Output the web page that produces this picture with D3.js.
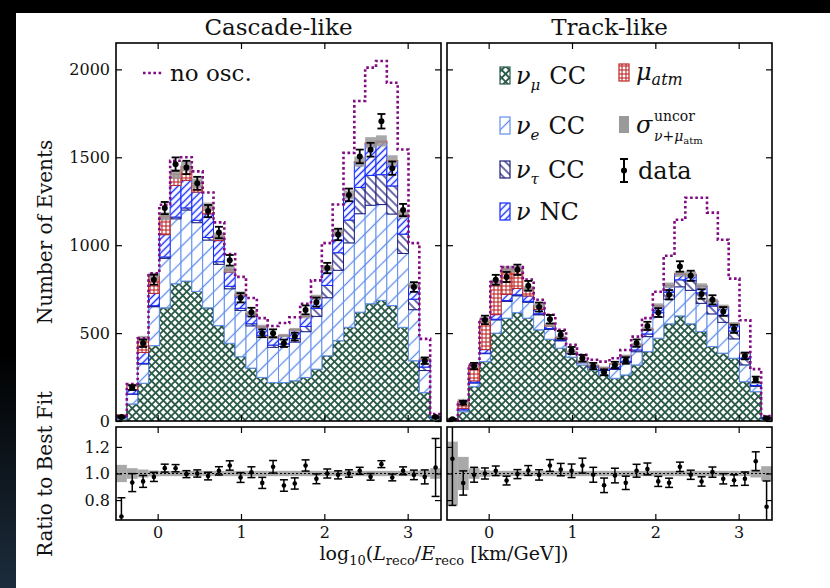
<!DOCTYPE html>
<html>
<head>
<meta charset="utf-8">
<script src="https://cdn.jsdelivr.net/npm/d3@7"></script>
<style>
  body { margin: 0; background: #000; }
  svg { display: block; }
  text { font-family: "DejaVu Serif", serif; fill: #111; }
</style>
</head>
<body>
<svg id="chart" width="830" height="588"></svg>
<script>
// binning: 30 bins of 0.13 in log10(L/E) from -0.5 to 3.4
const nBins = 30, xLo = -0.5, xHi = 3.4, binW = 0.13;
const edges = d3.range(nBins + 1).map(i => xLo + i * binW);

// Cascade-like
const cascNumuCC  = [12, 97, 215, 429, 644, 781, 796, 737, 644, 543, 442, 366, 301, 248, 219, 219, 229, 248, 295, 371, 457, 533, 619, 667, 686, 657, 533, 343, 162, 15];
const cascNueCC   = [10, 55, 109, 221, 281, 369, 404, 391, 385, 348, 310, 263, 240, 228, 200, 205, 220, 260, 300, 330, 400, 480, 560, 560, 545, 520, 420, 290, 125, 4];
const cascNutauCC = [1, 2, 4, 6, 8, 10, 12, 14, 15, 15, 14, 12, 12, 12, 13, 15, 20, 30, 45, 70, 100, 130, 150, 170, 170, 160, 110, 60, 20, 1];
const cascNuNC    = [6, 25, 62, 70, 127, 180, 157, 160, 134, 120, 81, 72, 55, 46, 41, 45, 48, 56, 62, 97, 113, 141, 143, 178, 183, 143, 111, 75, 44, 2];
const cascMuAtm   = [5, 25, 80, 99, 104, 65, 80, 50, 40, 25, 15, 10, 5, 3, 2, 2, 2, 2, 2, 2, 2, 2, 3, 8, 9, 2, 2, 2, 1, 0];
const cascData    = [23, 190, 442, 804, 1211, 1461, 1442, 1352, 1194, 1072, 914, 701, 619, 499, 499, 442, 480, 632, 676, 870, 1061, 1286, 1505, 1543, 1705, 1438, 1200, 762, 343, 23];
const cascNoOsc   = [30, 210, 470, 840, 1230, 1480, 1500, 1420, 1300, 1130, 950, 820, 700, 585, 540, 557, 590, 667, 800, 1012, 1231, 1525, 1820, 2010, 2048, 1924, 1544, 1012, 467, 40];
const cascUncor   = [0.065, 0.04, 0.03, 0.022, 0.02, 0.02, 0.02, 0.02, 0.02, 0.02, 0.02, 0.02, 0.02, 0.02, 0.02, 0.02, 0.02, 0.02, 0.02, 0.02, 0.02, 0.02, 0.02, 0.02, 0.02, 0.02, 0.02, 0.02, 0.025, 0.04];

// Track-like
const trackNumuCC  = [6, 53, 196, 338, 500, 585, 617, 585, 519, 465, 414, 363, 319, 291, 262, 243, 262, 319, 395, 471, 553, 598, 553, 509, 424, 386, 357, 224, 167, 12];
const trackNueCC   = [1, 10, 20, 45, 75, 95, 95, 90, 85, 56, 42, 20, 12, 16, 25, 50, 70, 75, 85, 120, 140, 165, 190, 160, 185, 175, 110, 95, 30, 4];
const trackNutauCC = [0, 1, 2, 3, 4, 5, 6, 6, 6, 5, 5, 3, 2, 2, 3, 5, 8, 10, 15, 25, 40, 40, 55, 60, 45, 40, 45, 35, 5, 1];
const trackNuNC    = [1, 8, 10, 20, 26, 35, 36, 30, 25, 12, 10, 5, 3, 6, 12, 24, 28, 28, 26, 38, 37, 32, 34, 38, 27, 47, 39, 30, 15, 3];
const trackMuAtm   = [1, 40, 88, 169, 182, 145, 110, 41, 20, 8, 5, 2, 1, 1, 2, 2, 2, 2, 2, 2, 2, 2, 2, 1, 1, 1, 1, 1, 0, 0];
const trackData    = [10, 104, 313, 575, 803, 819, 860, 769, 648, 579, 490, 401, 357, 313, 277, 319, 344, 443, 541, 617, 718, 879, 826, 722, 689, 623, 524, 370, 237, 15];
const trackNoOsc   = [10, 110, 319, 580, 790, 875, 875, 805, 690, 604, 519, 433, 376, 348, 338, 357, 404, 480, 585, 735, 940, 1145, 1270, 1270, 1185, 1031, 810, 573, 295, 28];
const trackUncor   = [0.24, 0.125, 0.04, 0.025, 0.02, 0.02, 0.02, 0.02, 0.02, 0.02, 0.02, 0.02, 0.02, 0.02, 0.02, 0.02, 0.02, 0.02, 0.02, 0.02, 0.02, 0.02, 0.02, 0.02, 0.02, 0.02, 0.02, 0.02, 0.03, 0.055];

const yTicks = [0, 500, 1000, 1500, 2000];
const ratioTicks = [0.8, 1.0, 1.2];
const xTicks = [0, 1, 2, 3];

const W = 830, H = 588;
const panelW = 325;
const mainTop = 43, mainBot = 421, ratTop = 427, ratBot = 520;

const colNumu = "#2a5a48", colNue = "#6290ee", colTau = "#1e1e7c",
      colNC = "#1028ff", colMu = "#c02424", colBand = "#9a9a9a", colNoOsc = "#820a82";

const svg = d3.select("#chart");
const defs = svg.append("defs");

// background: black edge, white figure
const grad = defs.append("linearGradient").attr("id", "edgeGrad")
    .attr("x1", 0).attr("y1", 0).attr("x2", 0).attr("y2", 1);
grad.append("stop").attr("offset", "0.6").attr("stop-color", "#000");
grad.append("stop").attr("offset", "1").attr("stop-color", "#1c2c3c");
svg.append("rect").attr("width", W).attr("height", H).attr("fill", "url(#edgeGrad)");
svg.append("rect").attr("x", 16).attr("y", 13).attr("width", W - 16).attr("height", H - 13).attr("fill", "#fff");

// hatch patterns
function hatch(id, color, size, width, angle, cross) {
    const p = defs.append("pattern").attr("id", id)
        .attr("patternUnits", "userSpaceOnUse")
        .attr("width", size).attr("height", size)
        .attr("patternTransform", `rotate(${angle})`);
    p.append("rect").attr("width", size).attr("height", size).attr("fill", "#fff");
    p.append("line").attr("x1", size / 2).attr("x2", size / 2).attr("y1", 0).attr("y2", size)
        .attr("stroke", color).attr("stroke-width", width);
    if (cross) {
        p.append("line").attr("x1", 0).attr("x2", size).attr("y1", size / 2).attr("y2", size / 2)
            .attr("stroke", color).attr("stroke-width", width);
    }
}
hatch("hNumu", colNumu, 5.5, 1.8, 45, true);
hatch("hNue", colNue, 11, 1.3, 45, false);
hatch("hTau", colTau, 6, 1.3, -45, false);
hatch("hNC", colNC, 5, 1.4, 45, false);
hatch("hMu", colMu, 4, 1.1, 0, true);

const layerStyle = [
    { pat: "hNumu", color: colNumu },
    { pat: "hNue", color: colNue },
    { pat: "hTau", color: colTau },
    { pat: "hNC", color: colNC },
    { pat: "hMu", color: colMu }
];

const y = d3.scaleLinear().domain([0, 2150]).range([mainBot, mainTop]);
const yr = d3.scaleLinear().domain([0.65, 1.35]).range([ratBot, ratTop]);

const panels = [
    { title: "Cascade-like", x0: 116, comps: [cascNumuCC, cascNueCC, cascNutauCC, cascNuNC, cascMuAtm],
      data: cascData, noOsc: cascNoOsc, unc: cascUncor },
    { title: "Track-like", x0: 447, comps: [trackNumuCC, trackNueCC, trackNutauCC, trackNuNC, trackMuAtm],
      data: trackData, noOsc: trackNoOsc, unc: trackUncor }
];

panels.forEach((p, pi) => {
    const x = d3.scaleLinear().domain([xLo, xHi]).range([p.x0, p.x0 + panelW]);
    const bw = x(edges[1]) - x(edges[0]);
    const total = p.data.map((_, i) => d3.sum(p.comps, c => c[i]));

    // clips
    defs.append("clipPath").attr("id", "clipMain" + pi).append("rect")
        .attr("x", p.x0).attr("y", mainTop).attr("width", panelW).attr("height", mainBot - mainTop);
    defs.append("clipPath").attr("id", "clipRat" + pi).append("rect")
        .attr("x", p.x0).attr("y", ratTop).attr("width", panelW).attr("height", ratBot - ratTop);

    const gm = svg.append("g").attr("clip-path", `url(#clipMain${pi})`);

    // nu_mu CC as stepped area
    const stepPts = arr => [{ x: xLo, v: 0 }]
        .concat(edges.map((e, i) => ({ x: e, v: arr[Math.min(i, nBins - 1)] })))
        .concat([{ x: xHi, v: 0 }]);
    const stepLine = d3.line().curve(d3.curveStepAfter).x(d => x(d.x)).y(d => y(d.v));
    const stepArea = d3.area().curve(d3.curveStepAfter).x(d => x(d.x)).y0(y(0)).y1(d => y(d.v));

    gm.append("path").datum(stepPts(p.comps[0]))
        .attr("d", stepArea).attr("fill", "url(#hNumu)");
    gm.append("path").datum(stepPts(p.comps[0]))
        .attr("d", stepLine).attr("fill", "none").attr("stroke", colNumu).attr("stroke-width", 1.3);

    // stacked boxes for the other components
    let cum = p.comps[0].slice();
    p.comps.slice(1).forEach((arr, k) => {
        const st = layerStyle[k + 1];
        const rows = arr.map((v, i) => ({ i, b: cum[i], t: cum[i] + v }));
        gm.append("g").selectAll("rect").data(rows).join("rect")
            .attr("x", d => x(edges[d.i])).attr("width", bw)
            .attr("y", d => y(d.t)).attr("height", d => y(d.b) - y(d.t))
            .attr("fill", `url(#${st.pat})`)
            .attr("stroke", st.color).attr("stroke-width", 1);
        cum = cum.map((c, i) => c + arr[i]);
    });

    // uncorrelated uncertainty band
    gm.append("g").selectAll("rect").data(total).join("rect")
        .attr("x", (d, i) => x(edges[i])).attr("width", bw)
        .attr("y", (d, i) => y(d * (1 + p.unc[i])))
        .attr("height", (d, i) => y(d * (1 - p.unc[i])) - y(d * (1 + p.unc[i])))
        .attr("fill", colBand).attr("opacity", 0.85);

    // no oscillation
    gm.append("path").datum(stepPts(p.noOsc))
        .attr("d", stepLine).attr("fill", "none").attr("stroke", colNoOsc)
        .attr("stroke-width", 2.6).attr("stroke-dasharray", "2.6,2.6");

    // data
    const centers = p.data.map((d, i) => x(edges[i] + binW / 2));
    const gd = gm.append("g");
    p.data.forEach((d, i) => {
        const e = Math.sqrt(d);
        const cx = centers[i];
        gd.append("line").attr("x1", cx).attr("x2", cx).attr("y1", y(d - e)).attr("y2", y(d + e))
            .attr("stroke", "#000").attr("stroke-width", 1.8);
        [d - e, d + e].forEach(v => gd.append("line")
            .attr("x1", cx - 4).attr("x2", cx + 4).attr("y1", y(v)).attr("y2", y(v))
            .attr("stroke", "#000").attr("stroke-width", 1.8));
        gd.append("circle").attr("cx", cx).attr("cy", y(d)).attr("r", 3).attr("fill", "#000");
    });

    // ratio panel
    const gr = svg.append("g").attr("clip-path", `url(#clipRat${pi})`);
    gr.append("g").selectAll("rect").data(p.unc).join("rect")
        .attr("x", (d, i) => x(edges[i])).attr("width", bw)
        .attr("y", d => yr(1 + d)).attr("height", d => yr(1 - d) - yr(1 + d))
        .attr("fill", colBand).attr("opacity", 0.85);
    gr.append("line").attr("x1", p.x0).attr("x2", p.x0 + panelW)
        .attr("y1", yr(1)).attr("y2", yr(1))
        .attr("stroke", "#000").attr("stroke-width", 1).attr("stroke-dasharray", "2,2");
    p.data.forEach((d, i) => {
        const r = d / total[i];
        const e = Math.sqrt(d) / total[i];
        const cx = centers[i];
        gr.append("line").attr("x1", cx).attr("x2", cx).attr("y1", yr(r - e)).attr("y2", yr(r + e))
            .attr("stroke", "#000").attr("stroke-width", 1.5);
        [r - e, r + e].forEach(v => gr.append("line")
            .attr("x1", cx - 4).attr("x2", cx + 4).attr("y1", yr(v)).attr("y2", yr(v))
            .attr("stroke", "#000").attr("stroke-width", 1.5));
        gr.append("circle").attr("cx", cx).attr("cy", yr(r)).attr("r", 2.3).attr("fill", "#000");
    });

    // axes: ticks inside on all four sides
    const styleAxis = g => {
        g.select(".domain").remove();
        g.selectAll(".tick line").attr("stroke", "#000").attr("stroke-width", 1.2);
        g.selectAll(".tick text").attr("fill", "#111")
            .style("font-family", "'DejaVu Serif', serif").style("font-size", "16px");
    };
    const tickLen = -6;
    const ax = (gen, tx, ty) => svg.append("g").attr("transform", `translate(${tx},${ty})`).call(gen).call(styleAxis);

    // main
    ax(d3.axisLeft(y).tickValues(yTicks).tickSize(tickLen).tickPadding(6)
        .tickFormat(pi === 0 ? d3.format("d") : ""), p.x0, 0);
    ax(d3.axisRight(y).tickValues(yTicks).tickSize(tickLen).tickFormat(""), p.x0 + panelW, 0);
    ax(d3.axisTop(x).tickValues(xTicks).tickSize(tickLen).tickFormat(""), 0, mainTop);
    ax(d3.axisBottom(x).tickValues(xTicks).tickSize(tickLen).tickFormat(""), 0, mainBot);
    // ratio
    ax(d3.axisLeft(yr).tickValues(ratioTicks).tickSize(tickLen).tickPadding(6)
        .tickFormat(pi === 0 ? d3.format(".1f") : ""), p.x0, 0);
    ax(d3.axisRight(yr).tickValues(ratioTicks).tickSize(tickLen).tickFormat(""), p.x0 + panelW, 0);
    ax(d3.axisTop(x).tickValues(xTicks).tickSize(tickLen).tickFormat(""), 0, ratTop);
    ax(d3.axisBottom(x).tickValues(xTicks).tickSize(tickLen).tickPadding(7).tickFormat(d3.format("d")), 0, ratBot);

    // frames
    [[mainTop, mainBot], [ratTop, ratBot]].forEach(([t, b]) => {
        svg.append("rect").attr("x", p.x0).attr("y", t).attr("width", panelW).attr("height", b - t)
            .attr("fill", "none").attr("stroke", "#000").attr("stroke-width", 1.6);
    });

    // title
    svg.append("text").attr("x", p.x0 + panelW / 2).attr("y", 35)
        .attr("text-anchor", "middle").style("font-size", "23px").text(p.title);
});

// axis labels
svg.append("text").attr("transform", "translate(52,232) rotate(-90)")
    .attr("text-anchor", "middle").style("font-size", "20px").text("Number of Events");
svg.append("text").attr("transform", "translate(52,474) rotate(-90)")
    .attr("text-anchor", "middle").style("font-size", "20px").text("Ratio to Best Fit");

const xl = svg.append("text").attr("x", 444).attr("y", 560).attr("text-anchor", "middle").style("font-size", "19px");
xl.append("tspan").text("log");
xl.append("tspan").attr("dy", 5).style("font-size", "13px").text("10");
xl.append("tspan").attr("dy", -5).text("(");
xl.append("tspan").style("font-style", "italic").text("L");
xl.append("tspan").attr("dy", 5).style("font-size", "13px").text("reco");
xl.append("tspan").attr("dy", -5).text("/");
xl.append("tspan").style("font-style", "italic").text("E");
xl.append("tspan").attr("dy", 5).style("font-size", "13px").text("reco");
xl.append("tspan").attr("dy", -5).text(" [km/GeV])");

// legend: no osc
svg.append("line").attr("x1", 143).attr("x2", 162).attr("y1", 73).attr("y2", 73)
    .attr("stroke", colNoOsc).attr("stroke-width", 2.6).attr("stroke-dasharray", "2.6,2.6");
svg.append("text").attr("x", 170).attr("y", 81).style("font-size", "23px").text("no osc.");

// legend: components
const legA = [
    { pat: "hNumu", color: colNumu, sym: "ν", sub: "μ", rest: "CC", y: 84 },
    { pat: "hNue", color: colNue, sym: "ν", sub: "e", rest: "CC", y: 134 },
    { pat: "hTau", color: colTau, sym: "ν", sub: "τ", rest: "CC", y: 178 },
    { pat: "hNC", color: colNC, sym: "ν", sub: "", rest: "NC", y: 220 }
];
legA.forEach(l => {
    svg.append("rect").attr("x", 500).attr("y", l.y - 17).attr("width", 10).attr("height", 17)
        .attr("fill", `url(#${l.pat})`).attr("stroke", l.color).attr("stroke-width", 1.2);
    const t = svg.append("text").attr("x", 516).attr("y", l.y).style("font-size", "24px");
    t.append("tspan").style("font-style", "italic").text(l.sym);
    if (l.sub) t.append("tspan").attr("dy", 6).style("font-size", "15px").style("font-style", "italic").text(l.sub);
    t.append("tspan").attr("dy", l.sub ? -6 : 0).attr("dx", 9).text(l.rest);
});

// mu atm
svg.append("rect").attr("x", 619).attr("y", 64).attr("width", 10).attr("height", 17)
    .attr("fill", "url(#hMu)").attr("stroke", colMu).attr("stroke-width", 1.2);
const tm = svg.append("text").attr("x", 636).attr("y", 80).style("font-size", "24px");
tm.append("tspan").style("font-style", "italic").text("μ");
tm.append("tspan").attr("dy", 5).style("font-size", "16px").style("font-style", "italic").text("atm");

// sigma uncor
svg.append("rect").attr("x", 619).attr("y", 116).attr("width", 10).attr("height", 17).attr("fill", colBand);
svg.append("text").attr("x", 636).attr("y", 133).style("font-size", "24px").style("font-style", "italic").text("σ");
svg.append("text").attr("x", 654).attr("y", 121).style("font-size", "14px").text("uncor");
const ts = svg.append("text").attr("x", 654).attr("y", 141).style("font-size", "14px");
ts.append("tspan").style("font-style", "italic").text("ν");
ts.append("tspan").text("+");
ts.append("tspan").style("font-style", "italic").text("μ");
ts.append("tspan").attr("dy", 3).style("font-size", "10px").text("atm");

// data
const lx = 624;
svg.append("line").attr("x1", lx).attr("x2", lx).attr("y1", 159).attr("y2", 182).attr("stroke", "#000").attr("stroke-width", 2);
[159, 182].forEach(v => svg.append("line").attr("x1", lx - 4).attr("x2", lx + 4).attr("y1", v).attr("y2", v)
    .attr("stroke", "#000").attr("stroke-width", 2));
svg.append("circle").attr("cx", lx).attr("cy", 170.5).attr("r", 3).attr("fill", "#000");
svg.append("text").attr("x", 638).attr("y", 179).style("font-size", "24px").text("data");
</script>
</body>
</html>
